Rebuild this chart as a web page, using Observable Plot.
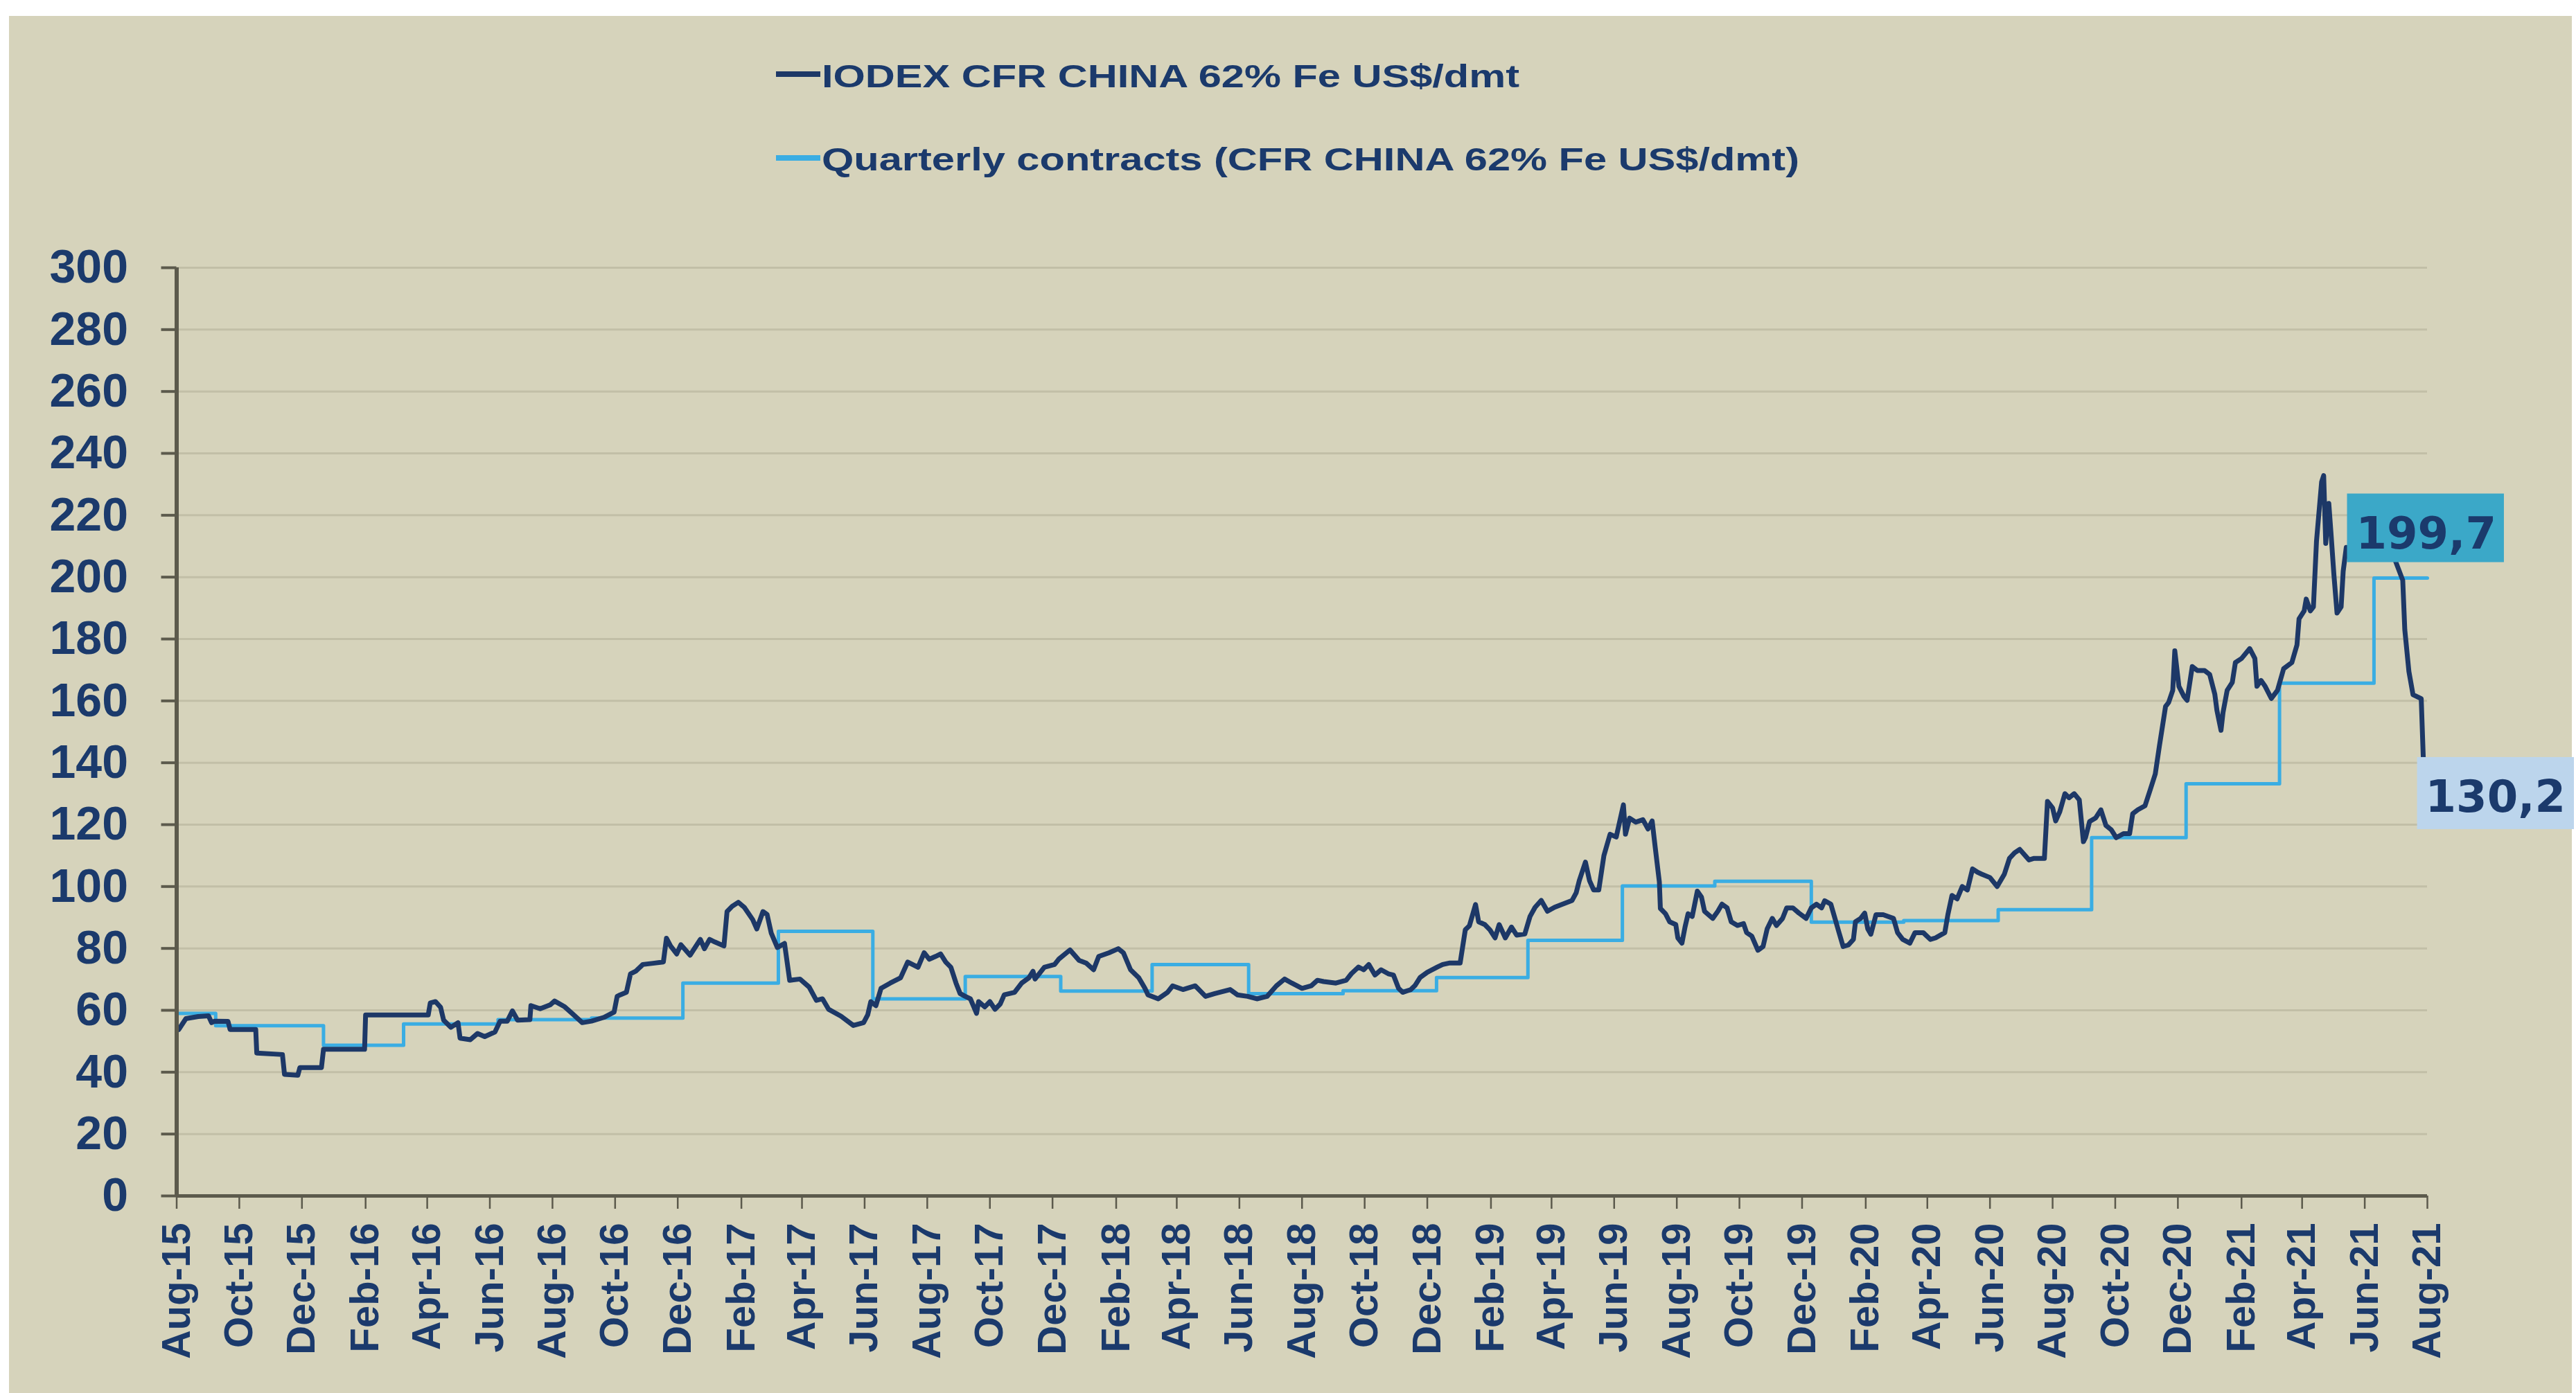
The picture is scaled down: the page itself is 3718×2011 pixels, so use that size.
<!DOCTYPE html>
<html><head><meta charset="utf-8">
<script src="https://cdn.jsdelivr.net/npm/d3@7"></script>
<script src="https://cdn.jsdelivr.net/npm/@observablehq/plot@0.6"></script>
<style>
html,body{margin:0;padding:0;background:#fff;}
#wrap{position:relative;width:3718px;height:2011px;overflow:hidden;background:#fff;}
#panel{position:absolute;left:13px;top:23px;width:3699px;height:1988px;background:#d6d3bb;}
#chart{position:absolute;left:0;top:0;}
#legend{position:absolute;left:0;top:0;}
</style></head><body>
<div id="wrap"><div id="panel"></div><div id="chart"></div><svg id="legend" width="3718" height="300"></svg></div>
<script>
// ---------- DATA ----------
const seriesNames = ["IODEX CFR CHINA 62% Fe US$/dmt", "Quarterly contracts (CFR CHINA 62% Fe US$/dmt)"];

const iodexDates = [
"2015-08-03","2015-08-10","2015-08-22","2015-09-01","2015-09-04","2015-09-07","2015-09-20","2015-09-22","2015-10-17","2015-10-18",
"2015-11-12","2015-11-14","2015-11-27","2015-11-29","2015-12-20","2015-12-22","2016-01-31","2016-02-01","2016-04-02","2016-04-04",
"2016-04-09","2016-04-14","2016-04-17","2016-04-24","2016-05-01","2016-05-03","2016-05-13","2016-05-20","2016-05-27","2016-06-06",
"2016-06-11","2016-06-18","2016-06-23","2016-06-28","2016-07-10","2016-07-11","2016-07-20","2016-07-30","2016-08-03","2016-08-13",
"2016-08-20","2016-08-30","2016-09-08","2016-09-20","2016-09-30","2016-10-03","2016-10-06","2016-10-12","2016-10-16","2016-10-21",
"2016-10-28","2016-11-07","2016-11-17","2016-11-20","2016-11-24","2016-11-30","2016-12-04","2016-12-13","2016-12-23","2016-12-27",
"2017-01-01","2017-01-06","2017-01-15","2017-01-18","2017-01-23","2017-01-29","2017-02-04","2017-02-12","2017-02-16","2017-02-22",
"2017-02-26","2017-03-02","2017-03-08","2017-03-15","2017-03-20","2017-03-30","2017-04-08","2017-04-15","2017-04-21","2017-04-27",
"2017-05-09","2017-05-21","2017-05-31","2017-06-04","2017-06-07","2017-06-12","2017-06-17","2017-06-26","2017-07-06","2017-07-13",
"2017-07-23","2017-07-29","2017-08-03","2017-08-09","2017-08-14","2017-08-19","2017-08-24","2017-08-29","2017-09-02","2017-09-07",
"2017-09-12","2017-09-18","2017-09-20","2017-09-26","2017-10-01","2017-10-06","2017-10-11","2017-10-15","2017-10-25","2017-11-01",
"2017-11-08","2017-11-12","2017-11-14","2017-11-23","2017-12-03","2017-12-07","2017-12-18","2017-12-27","2018-01-03","2018-01-10",
"2018-01-15","2018-01-25","2018-02-03","2018-02-08","2018-02-15","2018-02-23","2018-03-01","2018-03-04","2018-03-14","2018-03-23",
"2018-03-28","2018-04-07","2018-04-19","2018-04-29","2018-05-08","2018-05-23","2018-05-30","2018-06-09","2018-06-18","2018-06-28",
"2018-07-07","2018-07-15","2018-07-22","2018-08-01","2018-08-10","2018-08-16","2018-08-22","2018-09-03","2018-09-13","2018-09-18",
"2018-09-25","2018-09-30","2018-10-05","2018-10-11","2018-10-17","2018-10-24","2018-10-29","2018-11-03","2018-11-07","2018-11-15",
"2018-11-19","2018-11-24","2018-12-01","2018-12-11","2018-12-16","2018-12-23","2019-01-02","2019-01-07","2019-01-11","2019-01-17",
"2019-01-20","2019-01-26","2019-01-31","2019-02-05","2019-02-09","2019-02-15","2019-02-21","2019-02-26","2019-03-06","2019-03-11",
"2019-03-16","2019-03-22","2019-03-28","2019-04-04","2019-04-14","2019-04-21","2019-04-25","2019-04-28","2019-05-04","2019-05-08",
"2019-05-12","2019-05-17","2019-05-22","2019-05-28","2019-06-03","2019-06-10","2019-06-12","2019-06-16","2019-06-22","2019-06-29",
"2019-07-04","2019-07-08","2019-07-11","2019-07-15","2019-07-16","2019-07-21","2019-07-25","2019-07-31","2019-08-02","2019-08-06",
"2019-08-09","2019-08-12","2019-08-16","2019-08-21","2019-08-25","2019-08-28","2019-09-05","2019-09-10","2019-09-14","2019-09-19",
"2019-09-23","2019-09-29","2019-10-05","2019-10-08","2019-10-13","2019-10-19","2019-10-24","2019-10-28","2019-11-02","2019-11-06",
"2019-11-12","2019-11-16","2019-11-22","2019-11-28","2019-12-05","2019-12-10","2019-12-15","2019-12-20","2019-12-23","2019-12-29",
"2020-01-02","2020-01-06","2020-01-10","2020-01-15","2020-01-20","2020-01-22","2020-01-27","2020-01-31","2020-02-03","2020-02-06",
"2020-02-11","2020-02-18","2020-02-28","2020-03-03","2020-03-08","2020-03-15","2020-03-20","2020-03-28","2020-04-04","2020-04-09",
"2020-04-18","2020-04-21","2020-04-25","2020-04-30","2020-05-05","2020-05-10","2020-05-15","2020-05-20","2020-05-24","2020-06-01",
"2020-06-08","2020-06-15","2020-06-20","2020-06-25","2020-06-30","2020-07-09","2020-07-14","2020-07-24","2020-07-27","2020-08-01",
"2020-08-04","2020-08-08","2020-08-13","2020-08-17","2020-08-22","2020-08-27","2020-08-31","2020-09-02","2020-09-06","2020-09-12",
"2020-09-17","2020-09-22","2020-09-27","2020-10-02","2020-10-09","2020-10-15","2020-10-18","2020-10-23","2020-10-30","2020-11-04",
"2020-11-09","2020-11-13","2020-11-16","2020-11-19","2020-11-22","2020-11-26","2020-11-28","2020-12-02","2020-12-07","2020-12-10",
"2020-12-15","2020-12-20","2020-12-27","2021-01-01","2021-01-06","2021-01-08","2021-01-12","2021-01-14","2021-01-18","2021-01-23",
"2021-01-26","2021-02-01","2021-02-09","2021-02-14","2021-02-16","2021-02-20","2021-02-24","2021-03-02","2021-03-08","2021-03-14",
"2021-03-22","2021-03-27","2021-03-29","2021-04-03","2021-04-05","2021-04-09","2021-04-12","2021-04-15","2021-04-17","2021-04-20",
"2021-04-22","2021-04-24","2021-04-27","2021-04-29","2021-05-02","2021-05-05","2021-05-09","2021-05-11","2021-05-14","2021-05-19",
"2021-05-28","2021-06-10","2021-06-22","2021-06-30","2021-07-08","2021-07-10","2021-07-14","2021-07-18","2021-07-26","2021-07-28"
];
const iodexValues = [
53.8,57.3,58,58.2,56,56.5,56.4,53.8,53.8,46.2,
45.7,39.3,39,41.5,41.5,47.4,47.4,58.5,58.5,62.4,
62.8,61,56.8,54.5,56,51,50.5,52.5,51.5,53,
56.5,56.5,59.8,56.8,57,61.5,60.5,61.8,63,61.1,
59,56,56.5,57.7,59.4,64.5,65,65.8,71.8,72.6,
74.8,75.2,75.6,83.3,80.8,78.2,81.2,77.8,82.9,79.9,
82.9,82.1,80.8,91.9,93.6,94.9,93.2,89.3,86.3,91.9,
91,85,80.3,81.6,69.7,70.1,67.5,63.2,63.7,60.3,
58.1,55.1,56,58.5,62.8,61.5,67.1,68.8,70.5,75.6,
73.9,78.6,76.5,77.4,78.2,75.6,73.9,68.8,65.4,64.5,
63.7,59,62.8,61.1,62.8,60.3,62,65,65.8,68.8,
70.5,72.6,70.1,73.9,74.8,76.5,79.5,76.1,75.2,73.1,
77.4,78.6,79.9,78.6,73.1,70.5,67.1,65,63.7,65.8,
67.9,66.7,67.9,64.5,65.4,66.7,65,64.5,63.7,64.5,
67.9,70.1,68.8,67.1,67.9,69.7,69.3,68.8,69.7,71.8,
74,73.1,74.8,71.4,73.1,71.8,71.4,67.1,65.8,66.7,
68,70.6,72.3,74,74.8,75.3,75.3,86,87.3,94.2,
88.6,87.7,86,83.4,87.7,83.4,86.9,84.3,84.7,90.3,
93.3,95.5,92,93.3,94.6,95.5,98,101.9,107.9,101.9,
98.9,98.9,110,116.9,116,126.4,116.9,122.1,120.8,121.6,
118.6,121.2,112.6,101.5,92.9,91.2,88.6,87.7,83.4,81.7,
86.9,91.2,90.3,98.5,96.6,92,89.7,92,94.3,93.1,
88.6,87.4,88,85.1,84,79.4,80.6,86.3,89.7,87.4,
89.7,93.1,93.1,91.4,89.7,93.1,94.3,93.1,95.4,94.3,
89.7,85.1,80.6,81.1,82.9,88.6,89.7,91.4,86.3,84.6,
90.9,90.9,89.7,85.1,82.9,81.7,85.1,85.1,82.9,83.4,
85.1,90.9,97.1,96,100,98.9,105.7,104.6,104,102.9,
100,104,109.1,110.9,112,108.6,109.1,109.1,127.5,125.4,
121.2,124.2,130,128.7,130,128,114.5,115.8,121,122.2,
124.8,119.7,118.4,115.8,117.1,117.1,123.5,124.8,126.1,131.2,
136.4,145.4,151.8,158.2,159.5,163.4,176.2,164.7,161.4,160.2,
171.1,169.8,169.8,168.5,162.1,157,150.5,156.3,163.4,166,
172.4,173.7,176.9,173.7,164.7,166.6,164.7,160.8,163.4,170.4,
172.4,178.1,186.5,189.1,192.9,189.1,190.4,211.6,219.3,230.8,
232.8,210.9,223.8,214.8,200.6,188.4,190.4,201.9,209.6,208,
214,216,212,206,199,183,169.5,162,160.7,141.7
];

const quarterlyDates = [
"2015-08-01","2015-09-08","2015-12-22","2016-03-09","2016-06-09","2016-09-08","2016-12-06","2017-03-09","2017-06-09","2017-09-07",
"2017-12-09","2018-03-08","2018-06-10","2018-09-10","2018-12-10","2019-03-09","2019-06-09","2019-09-07","2019-12-10","2020-03-09",
"2020-06-09","2020-09-08","2020-12-09","2021-03-10","2021-06-10","2021-08-01"
];
const quarterlyValues = [
59,55,48.7,55.6,57,57.5,68.8,85.5,63.7,70.9,
66.2,74.8,65.4,66.3,70.6,82.6,100.2,101.7,88.5,89,
92.5,115.8,133.2,165.7,199.7,199.7
];

const yTicks = [0,20,40,60,80,100,120,140,160,180,200,220,240,260,280,300];
const xTickDates = [
"2015-08-01","2015-10-01","2015-12-01","2016-02-01","2016-04-01","2016-06-01","2016-08-01","2016-10-01","2016-12-01",
"2017-02-01","2017-04-01","2017-06-01","2017-08-01","2017-10-01","2017-12-01","2018-02-01","2018-04-01","2018-06-01",
"2018-08-01","2018-10-01","2018-12-01","2019-02-01","2019-04-01","2019-06-01","2019-08-01","2019-10-01","2019-12-01",
"2020-02-01","2020-04-01","2020-06-01","2020-08-01","2020-10-01","2020-12-01","2021-02-01","2021-04-01","2021-06-01","2021-08-01"
];
const xTickLabels = [
"Aug-15","Oct-15","Dec-15","Feb-16","Apr-16","Jun-16","Aug-16","Oct-16","Dec-16",
"Feb-17","Apr-17","Jun-17","Aug-17","Oct-17","Dec-17","Feb-18","Apr-18","Jun-18",
"Aug-18","Oct-18","Dec-18","Feb-19","Apr-19","Jun-19","Aug-19","Oct-19","Dec-19",
"Feb-20","Apr-20","Jun-20","Aug-20","Oct-20","Dec-20","Feb-21","Apr-21","Jun-21","Aug-21"
];
// end-of-series value labels
const lastQuarterly = 199.7;
const lastIodex = 130.2;

// ---------- STYLE ----------
const NAVY = "#1d3867", LIGHT = "#3aade3", TEXT = "#1b3a6c", AXIS = "#5c5a4c", GRID = "#c2bfa7";
const BOX_Q = "#3ba8c8", BOX_I = "#bcd5ec";

const parse = d3.utcParse("%Y-%m-%d");
const iodex = iodexDates.map((d, i) => ({date: parse(d), value: iodexValues[i]}));
const quarterly = quarterlyDates.map((d, i) => ({date: parse(d), value: quarterlyValues[i]}));
const xTicks = xTickDates.map(parse);
const labelOf = new Map(xTicks.map((d, i) => [+d, xTickLabels[i]]));
const fmt = v => v.toFixed(1).replace(".", ",");

const qLabel = [{date: quarterly[quarterly.length - 1].date, value: lastQuarterly, text: fmt(lastQuarterly)}];
const iLabel = [{date: iodex[iodex.length - 1].date, value: lastIodex, text: fmt(lastIodex)}];

const plot = Plot.plot({
  width: 3718, height: 2011,
  marginLeft: 254.5, marginRight: 215, marginTop: 386, marginBottom: 285,
  style: {background: "transparent", fontFamily: "'Liberation Sans', Arial, sans-serif", overflow: "visible"},
  x: {type: "utc", domain: [xTicks[0], xTicks[xTicks.length - 1]], label: null},
  y: {domain: [0, 300], label: null},
  marks: [
    Plot.ruleY(yTicks.filter(d => d > 0), {stroke: GRID, strokeWidth: 3}),
    Plot.line(quarterly, {x: "date", y: "value", curve: "step-after", stroke: LIGHT, strokeWidth: 5}),
    Plot.line(iodex, {x: "date", y: "value", stroke: NAVY, strokeWidth: 7, strokeLinejoin: "round"}),
    Plot.ruleX([xTicks[0]], {y1: 0, y2: 300, stroke: AXIS, strokeWidth: 6}),
    Plot.ruleY([0], {stroke: AXIS, strokeWidth: 5}),
    Plot.axisY({ticks: yTicks, tickFormat: d => String(d), tickSize: 22, tickPadding: 48, fontSize: 68, fontWeight: "bold",
      fill: TEXT, stroke: AXIS, strokeWidth: 4, label: null}),
    Plot.axisX({ticks: xTicks, tickFormat: d => labelOf.get(+d), tickRotate: -90, tickSize: 19, tickPadding: 20,
      fontSize: 58, fontWeight: "bold", fill: TEXT, stroke: AXIS, strokeWidth: 2.5, label: null}),
    Plot.text(qLabel, {x: "date", y: "value", text: "text", dx: -103, dy: -43, textAnchor: "start", lineAnchor: "bottom",
      fontSize: 64, fontWeight: "bold", fontFamily: "DejaVu Sans", fill: TEXT}),
    Plot.text(iLabel, {x: "date", y: "value", text: "text", dx: 3, dy: 27, textAnchor: "start", lineAnchor: "bottom",
      fontSize: 64, fontWeight: "bold", fontFamily: "DejaVu Sans", fill: TEXT})
  ]
});
document.getElementById("chart").append(plot);

// background boxes behind the value labels (same local frame as the text)
function addBox(txt, fill, padL, padR, padT, padB) {
  for (const t of plot.querySelectorAll("text")) {
    if (t.textContent !== txt) continue;
    const bb = t.getBBox();
    const r = document.createElementNS("http://www.w3.org/2000/svg", "rect");
    r.setAttribute("x", bb.x - padL);
    r.setAttribute("y", bb.y - padT);
    r.setAttribute("width", bb.width + padL + padR);
    r.setAttribute("height", bb.height + padT + padB);
    r.setAttribute("fill", fill);
    const tr = t.getAttribute("transform");
    if (tr) r.setAttribute("transform", tr);
    t.parentNode.insertBefore(r, t);
  }
}
addBox(fmt(lastQuarterly), BOX_Q, 13, 11, 20, 5);
addBox(fmt(lastIodex), BOX_I, 12, 12, 20, 10);

// legend
const leg = d3.select("#legend");
const legendRows = [
  {name: seriesNames[0], color: NAVY, base: 126, dashY: 107, len: 1007},
  {name: seriesNames[1], color: LIGHT, base: 246, dashY: 228, len: 1411}
];
for (const r of legendRows) {
  leg.append("line").attr("x1", 1120).attr("x2", 1184).attr("y1", r.dashY).attr("y2", r.dashY)
    .attr("stroke", r.color).attr("stroke-width", 8);
  leg.append("text").attr("x", 1186).attr("y", r.base).text(r.name)
    .attr("font-family", "'Liberation Sans', Arial, sans-serif").attr("font-weight", "bold")
    .attr("font-size", 46).attr("fill", TEXT)
    .attr("textLength", r.len).attr("lengthAdjust", "spacingAndGlyphs");
}
</script>
</body></html>
